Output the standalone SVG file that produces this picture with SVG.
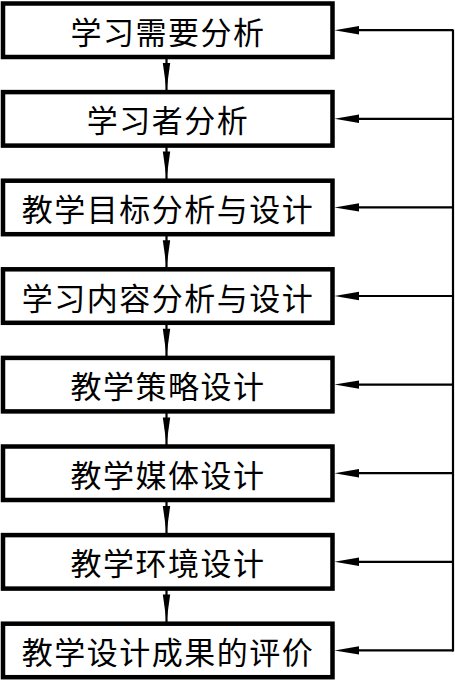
<svg xmlns="http://www.w3.org/2000/svg" width="455" height="680" viewBox="0 0 455 680">
<style>
.box{fill:#fff;stroke:#000;stroke-width:4.5}
.lbl{font-family:"Noto Sans CJK SC","Noto Sans CJK JP",sans-serif;font-size:31px;letter-spacing:1.5px;fill:#000;text-anchor:middle;dominant-baseline:central}
.ln{fill:none;stroke:#000;stroke-width:2.2}
.ah{fill:#000;stroke:none}
</style>
<rect width="455" height="680" fill="#fff"/>
<g id="connectors">
<path class="ln" d="M453 29.5V651.5"/>
<path class="ln" d="M359 30.2H453M359 118.8H453M359 207.4H453M359 296H453M359 384.6H453M359 473.2H453M359 561.8H453M359 650.4H453"/>
<g class="ah">
<polygon points="334.5,30.2 359,26 359,34.4"/>
<polygon points="334.5,118.8 359,114.6 359,123"/>
<polygon points="334.5,207.4 359,203.2 359,211.6"/>
<polygon points="334.5,296 359,291.8 359,300.2"/>
<polygon points="334.5,384.6 359,380.4 359,388.8"/>
<polygon points="334.5,473.2 359,469 359,477.4"/>
<polygon points="334.5,561.8 359,557.6 359,566"/>
<polygon points="334.5,650.4 359,646.2 359,654.6"/>
</g>
<path class="ln" d="M166.5 57V92M166.5 145.6V180.7M166.5 234.2V269.3M166.5 322.8V357.9M166.5 411.4V446.5M166.5 500V535.1M166.5 588.6V623.7"/>
<g class="ah">
<polygon points="162.8,63 170.2,63 166.5,89.5"/>
<polygon points="162.8,151.6 170.2,151.6 166.5,178.1"/>
<polygon points="162.8,240.2 170.2,240.2 166.5,266.7"/>
<polygon points="162.8,328.8 170.2,328.8 166.5,355.3"/>
<polygon points="162.8,417.4 170.2,417.4 166.5,443.9"/>
<polygon points="162.8,506 170.2,506 166.5,532.5"/>
<polygon points="162.8,594.6 170.2,594.6 166.5,621.1"/>
</g>
</g>
<g id="n1"><rect class="box" x="3" y="3.5" width="329.5" height="53.5"/><text class="lbl" x="168" y="30.2">学习需要分析</text></g>
<g id="n2"><rect class="box" x="3" y="92.1" width="329.5" height="53.5"/><text class="lbl" x="168" y="118.8">学习者分析</text></g>
<g id="n3"><rect class="box" x="3" y="180.7" width="329.5" height="53.5"/><text class="lbl" x="168" y="207.4">教学目标分析与设计</text></g>
<g id="n4"><rect class="box" x="3" y="269.3" width="329.5" height="53.5"/><text class="lbl" x="168" y="296">学习内容分析与设计</text></g>
<g id="n5"><rect class="box" x="3" y="357.9" width="329.5" height="53.5"/><text class="lbl" x="168" y="384.6">教学策略设计</text></g>
<g id="n6"><rect class="box" x="3" y="446.5" width="329.5" height="53.5"/><text class="lbl" x="168" y="473.2">教学媒体设计</text></g>
<g id="n7"><rect class="box" x="3" y="535.1" width="329.5" height="53.5"/><text class="lbl" x="168" y="561.8">教学环境设计</text></g>
<g id="n8"><rect class="box" x="3" y="623.7" width="329.5" height="53.5"/><text class="lbl" x="168" y="650.4">教学设计成果的评价</text></g>
</svg>
